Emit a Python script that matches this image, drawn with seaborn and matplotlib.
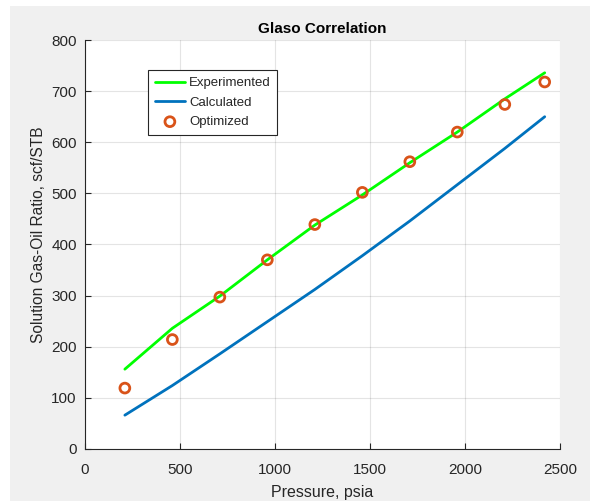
import matplotlib
matplotlib.use("Agg")
import matplotlib.pyplot as plt
import pandas as pd
import seaborn as sns
from matplotlib.patches import Rectangle

# Data
pressure = [210, 460, 710, 960, 1210, 1460, 1710, 1960, 2210, 2420]
experimented = [156, 236, 299, 370, 438, 497, 560, 620, 685, 736]
calculated = [66, 124, 186, 249, 312, 378, 446, 517, 588, 650]
optimized = [119, 214, 297, 370, 439, 502, 562, 620, 674, 718]

df = pd.DataFrame({
    "pressure": pressure,
    "Experimented": experimented,
    "Calculated": calculated,
    "Optimized": optimized,
})

sns.set_style("white")
plt.rcParams["font.family"] = ["Liberation Sans", "DejaVu Sans"]

fig = plt.figure(figsize=(5.9, 5.01), dpi=100, facecolor="white")
# grey figure window, with a thin white strip at the top and left
fig.patches.append(Rectangle((10 / 590, -0.01), 1, 1.01 - 6 / 501, transform=fig.transFigure,
                             facecolor="#f0f0f0", edgecolor="none", zorder=-10))
ax = fig.add_axes([0.144, 0.104, 0.805, 0.816])
ax.set_facecolor("white")

sns.lineplot(data=df, x="pressure", y="Experimented", ax=ax, color="#00ff00",
             linewidth=2, label="Experimented")
sns.lineplot(data=df, x="pressure", y="Calculated", ax=ax, color="#0072bd",
             linewidth=2, label="Calculated")
sns.scatterplot(data=df, x="pressure", y="Optimized", ax=ax, marker="o",
                s=50, facecolor="none", edgecolor="#d95319", linewidth=2,
                label="Optimized", zorder=3)

ax.set_xlim(0, 2500)
ax.set_ylim(0, 800)
ax.set_xticks(range(0, 2501, 500))
ax.set_yticks(range(0, 801, 100))
ax.grid(True, color="#262626", alpha=0.12, linewidth=0.8)
for side in ["top", "right"]:
    ax.spines[side].set_visible(False)
for side in ["left", "bottom"]:
    ax.spines[side].set_color("#262626")
    ax.spines[side].set_linewidth(0.8)
ax.tick_params(direction="in", length=4, width=0.8, colors="#262626",
               labelsize=11, left=True, bottom=True)
ax.tick_params(axis="x", pad=10)
ax.tick_params(axis="y", pad=6)

ax.set_title("Glaso Correlation", fontsize=11, fontweight="bold", color="black", pad=5)
ax.set_xlabel("Pressure, psia", fontsize=11.5, color="#262626", labelpad=6)
ax.set_ylabel("Solution Gas-Oil Ratio, scf/STB", fontsize=11.2, color="#262626")
ax.yaxis.set_label_coords(-0.082, 0.525)

leg = ax.legend(loc="upper left", bbox_to_anchor=(0.133, 0.926), fontsize=9.5,
                frameon=True, fancybox=False, framealpha=1, borderpad=0.5,
                borderaxespad=0, handlelength=2.3, labelspacing=0.55, handletextpad=0.3)
leg.get_frame().set_edgecolor("#262626")
leg.get_frame().set_linewidth(0.8)

fig.savefig("out.png", dpi=100, facecolor=fig.get_facecolor())
